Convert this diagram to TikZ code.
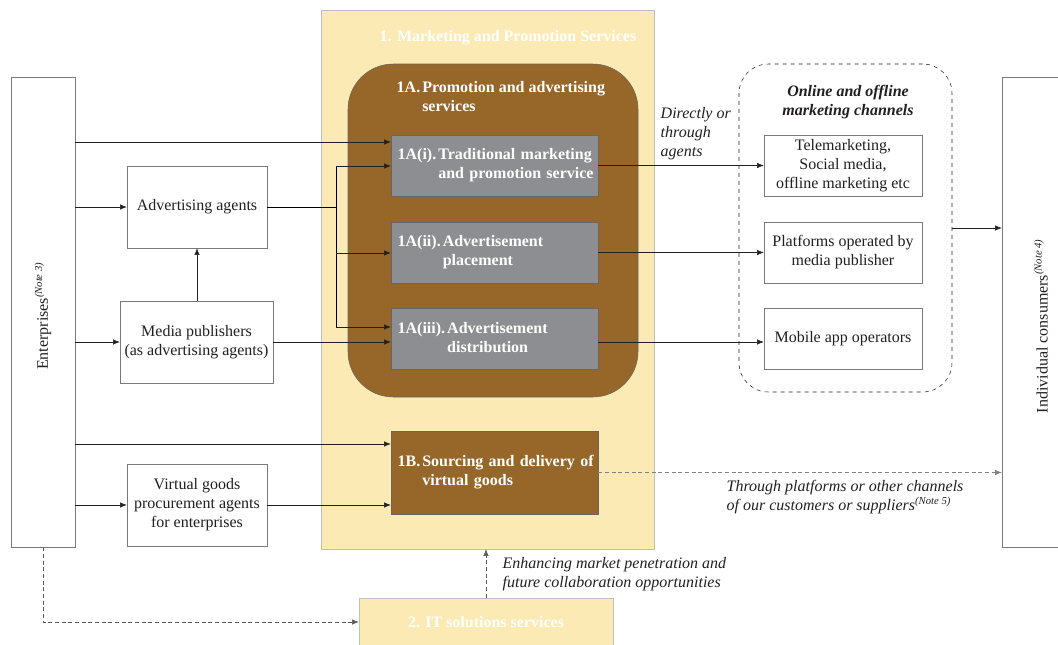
\documentclass[tikz,border=0pt]{standalone}
\usepackage{fontspec}
\setmainfont{Liberation Serif}
\usepackage{tikz}
\usetikzlibrary{positioning,arrows.meta}
\definecolor{mpyellow}{HTML}{FCEAB4}
\definecolor{mpbrown}{HTML}{966728}
\definecolor{mpgray}{HTML}{8D8E91}
\definecolor{mpline}{HTML}{231F20}
\definecolor{mpedge}{HTML}{7A7A7A}
\newcommand{\fs}{\fontsize{12}{14.25}\selectfont}
\newcommand{\hang}[3]{\begin{tabular}{@{}l@{\hspace{1.5pt}}l@{}}#1 & #2\\ & #3\end{tabular}}

\begin{document}
\begin{tikzpicture}[x=0.75pt,y=-0.75pt,
    every node/.style={font=\fs, text=mpline},
    wbox/.style={draw=mpedge, fill=white, align=center, inner sep=0pt, minimum width=105pt, minimum height=61.5pt},
    gbox/.style={draw=black!60, fill=mpgray, text=white, font=\fs\bfseries, inner xsep=5pt, inner ysep=0pt,
      text width=145.25pt, align=left, minimum height=45.75pt},
    cbox/.style={wbox, minimum width=118.5pt, minimum height=45.75pt},
    side/.style={draw=mpedge, fill=white, minimum height=352.5pt, inner sep=0pt},
    wtitle/.style={text=white, font=\fs\bfseries},
    note/.style={font=\fs\itshape, align=left},
    arr/.style={draw=mpline, -{Latex[length=5pt,width=4pt]}},
    darr/.style={arr, dash pattern=on 3pt off 2pt}]
  \useasboundingbox (0,0) rectangle (1058,644);

  % Clienti
  \node (ent) at (43,312) [side, minimum width=48pt] {};
  \node (entlbl) at (43,316) [rotate=90] {Enterprises\textsuperscript{\itshape(Note 3)}};
  \node (cons) at (1042,312) [side, minimum width=60pt] {};
  \node (conslbl) at (1041,326) [rotate=90] {Individual consumers\textsuperscript{\itshape(Note 4)}};

  % Agenti
  \node (adv) at (197,207) [wbox] {Advertising agents};
  \node (mpub) at (196.5,342) [wbox, minimum width=114.75pt] {Media publishers\\(as advertising agents)};
  \node (vg) at (197,505) [wbox] {Virtual goods\\procurement agents\\for enterprises};

  % Servizi
  \node (mps) at (487.5,279.5) [draw=black!25, fill=mpyellow, minimum width=249.75pt, minimum height=404.25pt] {};
  \node (mpslbl) at (508,38) [wtitle] {1. Marketing and Promotion Services};
  \node (pa) at (493,230.5) [draw=black!60, fill=mpbrown, rounded corners=34pt,
    minimum width=217.5pt, minimum height=249.75pt] {};
  \node (palbl) at (392,98) [wtitle, anchor=west] {\hang{1A.}{Promotion and advertising}{services}};
  \node (ai) at (494.5,165.5) [gbox] {\hang{1A(i).}{Traditional marketing}{and promotion service}};
  \node (aii) at (494.5,252.5) [gbox] {\hang{1A(ii).}{Advertisement}{placement}};
  \node (aiii) at (494.5,339) [gbox] {\hang{1A(iii).}{Advertisement}{distribution}};
  \node (b1) at (494.5,472.5) [gbox, fill=mpbrown, minimum height=62.25pt] {\hang{1B.}{Sourcing and delivery of}{virtual goods}};
  \node (it) at (486,622) [draw=black!25, fill=mpyellow, minimum width=190.5pt, minimum height=36pt] {};
  \node (itlbl) at (486,622) [wtitle] {2. IT solutions services};

  % Canali
  \node (chan) at (845.5,228) [draw=mpline, dashed, rounded corners=22pt, minimum width=159.75pt, minimum height=246pt] {};
  \node (chanlbl) at (848,102) [font=\fs\bfseries\itshape, align=center] {Online and offline\\marketing channels};
  \node (tele) at (843,165.5) [cbox] {Telemarketing,\\Social media,\\offline marketing etc};
  \node (plat) at (843,252.5) [cbox] {Platforms operated by\\media publisher};
  \node (mob) at (843,338.5) [cbox] {Mobile app operators};

  % Note
  \node (direct) at (656,134) [note, anchor=west] {Directly or\\through\\agents};
  \node (through) at (722,497) [note, anchor=west] {Through platforms or other channels\\of our customers or suppliers\textsuperscript{(Note 5)}};
  \node (enh) at (498,574) [note, anchor=west] {Enhancing market penetration and\\future collaboration opportunities};

  % Collegamenti
  \coordinate (jt) at (336,166);
  \coordinate (jc) at (336,207);
  \coordinate (jm) at (336,253);
  \coordinate (jb) at (336,327);
  \draw[arr] (ent.east |- 0,142) -- (ai.west |- 0,142);
  \draw[arr] (ent.east |- adv.west) -- (adv.west);
  \draw[arr] (ent.east |- mpub.west) -- (mpub.west);
  \draw[arr] (ent.east |- 0,444) -- (b1.west |- 0,444);
  \draw[arr] (ent.east |- vg.west) -- (vg.west);
  \draw[arr] (mpub.north -| adv.south) -- (adv.south);
  \draw (adv.east) -- (jc);
  \draw (jt) -- (jb);
  \draw[arr] (jt) -- (ai.west |- jt);
  \draw[arr] (jm) -- (aii.west |- jm);
  \draw[arr] (jb) -- (aiii.west |- jb);
  \draw[arr] (mpub.east) -- (aiii.west |- mpub.east);
  \draw[arr] (vg.east) -- (b1.west |- vg.east);
  \draw[arr] (ai.east) -- (tele.west);
  \draw[arr] (aii.east) -- (plat.west);
  \draw[arr] (aiii.east |- 0,342) -- (mob.west |- 0,342);
  \draw[arr] (chan.east) -- (cons.west |- chan.east);
  \draw[darr, draw=gray] (b1.east) -- (cons.west |- b1.east);
  \draw[darr, draw=gray!70!black] (it.north) -- (it.north |- mps.south);
  \draw[darr, draw=gray!70!black] (ent.south) |- (it.west);
\end{tikzpicture}
\end{document}
